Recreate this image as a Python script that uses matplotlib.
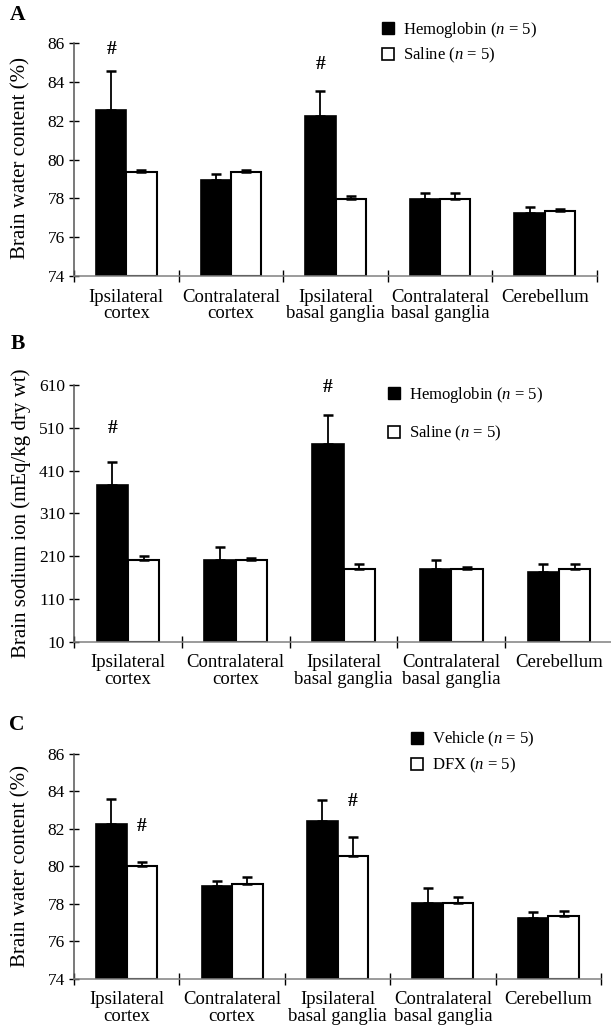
import numpy as np
import matplotlib
matplotlib.use("Agg")
import matplotlib.pyplot as plt
from matplotlib.patches import Patch

plt.rcParams['font.family'] = ['Liberation Serif', 'DejaVu Serif']
plt.rcParams['mathtext.fontset'] = 'custom'
plt.rcParams['mathtext.rm'] = 'Liberation Serif'
plt.rcParams['mathtext.it'] = 'Liberation Serif:italic'

## Data ##
regions = ["Ipsilateral\ncortex", "Contralateral\ncortex", "Ipsilateral\nbasal ganglia",
           "Contralateral\nbasal ganglia", "Cerebellum"]

# A: water content, hemoglobin vs saline
hemo_water = [82.57, 78.95, 82.26, 77.95, 77.26]
hemo_water_err = [1.98, 0.28, 1.29, 0.30, 0.29]
saline_water = [79.36, 79.36, 77.95, 77.95, 77.34]
saline_water_err = [0.10, 0.10, 0.18, 0.30, 0.10]

# B: sodium, hemoglobin vs saline
hemo_na = [376, 201, 472, 181, 172]
hemo_na_err = [55, 30, 68, 20, 19]
saline_na = [201, 201, 181, 181, 181]
saline_na_err = [10, 5, 10, 3, 10]

# C: water content, vehicle vs DFX
veh_water = [82.26, 78.93, 82.44, 78.04, 77.24]
veh_water_err = [1.35, 0.30, 1.10, 0.80, 0.30]
dfx_water = [80.02, 79.04, 80.53, 78.04, 77.33]
dfx_water_err = [0.19, 0.39, 1.02, 0.30, 0.30]

## Figure ##
W, H = 611, 1033
fig = plt.figure(figsize=(W / 100, H / 100), dpi=100)

def px_axes(left, right, top, bottom):
    return fig.add_axes([left / W, 1 - bottom / H, (right - left) / W, (bottom - top) / H])

bw = 0.29
x = np.arange(5) + 0.5
axis_grey = '#808080'

def panel(ax, a, a_err, b, b_err, ylo, yhi, ystep, hashes):
    ax.bar(x - bw / 2, np.array(a) - ylo, bw, bottom=ylo, color='black',
           edgecolor='black', linewidth=1.2)
    ax.bar(x + bw / 2, np.array(b) - ylo, bw, bottom=ylo, color='white',
           edgecolor='black', linewidth=1.5)
    ax.errorbar(x - bw / 2, a, yerr=[np.zeros(5), a_err], fmt='none', ecolor='black',
                elinewidth=1.3, capsize=3.8, capthick=1.8)
    ax.errorbar(x + bw / 2, b, yerr=[np.zeros(5), b_err], fmt='none', ecolor='black',
                elinewidth=1.3, capsize=3.8, capthick=1.8)
    for xi, yi in hashes:
        ax.text(xi, yi, '#', ha='center', va='center', fontsize=14, fontweight='bold',
                clip_on=False)
    ax.set_xlim(0, 5)
    ax.set_ylim(ylo, yhi)
    ax.set_yticks(np.arange(ylo, yhi + ystep / 2, ystep))
    ax.set_xticks(np.arange(6))
    ax.set_xticklabels([])
    ax.set_xticks(x, minor=True)
    ax.set_xticklabels(regions, minor=True, fontsize=13.5, linespacing=1.0)
    ax.tick_params(axis='x', which='minor', length=0, pad=9)
    ax.tick_params(axis='x', which='major', direction='inout', length=9, width=1,
                   color='black')
    ax.tick_params(axis='y', direction='inout', length=7, width=1, labelsize=12.5, pad=3)
    for s in ['top', 'right']:
        ax.spines[s].set_visible(False)
    for s in ['left', 'bottom']:
        ax.spines[s].set_color(axis_grey)
        ax.spines[s].set_linewidth(1.1)
    ax.spines['left'].set_color('#555555')

def add_legend(ax, labels, fx, fy, spacing):
    handles = [Patch(facecolor='black', edgecolor='black', linewidth=1.0),
               Patch(facecolor='white', edgecolor='black', linewidth=1.2)]
    ax.legend(handles, labels, loc='upper left', bbox_to_anchor=(fx / W, 1 - fy / H),
              bbox_transform=fig.transFigure, frameon=False, fontsize=12,
              handlelength=0.72, handleheight=0.72, handletextpad=0.55,
              labelspacing=spacing, borderpad=0, borderaxespad=0)

# Panel A
axA = px_axes(74, 597, 43, 276)
panel(axA, hemo_water, hemo_water_err, saline_water, saline_water_err, 74, 86, 2,
      [(x[0] - bw / 2, 85.69), (x[2] - bw / 2, 84.87)])
add_legend(axA, [r'Hemoglobin ($n$ = 5)', r'Saline ($n$ = 5)'], 382, 20, 0.35)

# Panel B
axB = px_axes(74, 613, 385, 641.7)
panel(axB, hemo_na, hemo_na_err, saline_na, saline_na_err, 10, 610, 100,
      [(x[0] - bw / 2, 509), (x[2] - bw / 2, 603)])
add_legend(axB, [r'Hemoglobin ($n$ = 5)', r'Saline ($n$ = 5)'], 388, 385, 1.15)

# Panel C
axC = px_axes(74, 601, 754, 978.7)
panel(axC, veh_water, veh_water_err, dfx_water, dfx_water_err, 74, 86, 2,
      [(x[0] + bw / 2, 82.12), (x[2] + bw / 2, 83.45)])
add_legend(axC, [r'Vehicle ($n$ = 5)', r'DFX ($n$ = 5)'], 411, 730, 0.4)

# Axis titles and panel letters
fig.text(21 / W, 1 - 158 / H, 'Brain water content (%)', rotation=90,
         ha='center', va='center', fontsize=15)
fig.text(21 / W, 1 - 513 / H, 'Brain sodium ion (mEq/kg dry wt)', rotation=90,
         ha='center', va='center', fontsize=15)
fig.text(21 / W, 1 - 866 / H, 'Brain water content (%)', rotation=90,
         ha='center', va='center', fontsize=15)
for lab, px, py in [('A', 18, 15), ('B', 18, 344), ('C', 17, 725)]:
    fig.text(px / W, 1 - py / H, lab, ha='center', va='center', fontsize=15.5,
             fontweight='bold')

fig.savefig('out.png', dpi=100)
